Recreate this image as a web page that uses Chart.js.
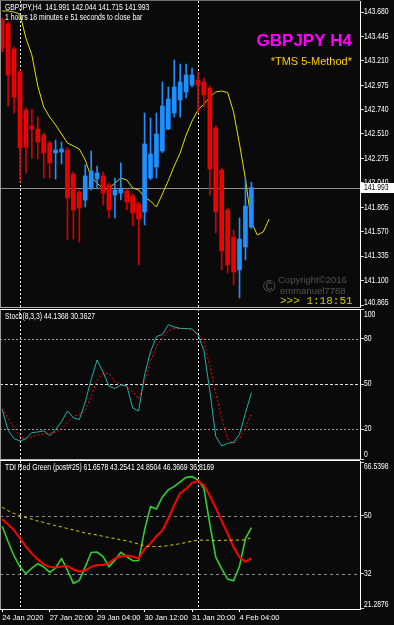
<!DOCTYPE html>
<html>
<head>
<meta charset="utf-8">
<script src="https://cdn.jsdelivr.net/npm/chart.js@4.4.1/dist/chart.umd.min.js"></script>
<style>
html, body { margin: 0; padding: 0; background: #0a0a0a; }
#wrap { position: relative; width: 394px; height: 625px; overflow: hidden; background: #0a0a0a; }
canvas { position: absolute; left: 0; }
</style>
</head>
<body>
<div id="wrap">
  <canvas id="mainChart" width="394" height="308" style="top:0px"></canvas>
  <canvas id="stochChart" width="394" height="151" style="top:309px"></canvas>
  <canvas id="tdiChart" width="394" height="165" style="top:460px"></canvas>
</div>
<script>
// GBPJPY H4 candles, one entry per bar
const openP  = [143.603, 143.565, 143.325, 143.104, 142.739, 142.585, 142.556, 142.498, 142.422, 142.326,
                142.335, 142.354, 142.124, 141.951, 141.874, 141.989, 142.076, 142.105, 142.018, 141.922,
                141.941, 141.961, 141.912, 141.836, 141.759, 142.085, 142.191, 142.345, 142.556, 142.710,
                142.835, 142.912, 142.979, 143.027, 143.008, 142.950, 142.566, 142.162, 141.778, 141.519,
                141.202, 141.423, 141.615];
const highP  = [143.622, 143.584, 143.344, 143.123, 142.758, 142.748, 142.671, 142.518, 142.441, 142.450,
                142.431, 142.374, 142.143, 141.970, 142.210, 142.345, 142.201, 142.143, 142.037, 142.085,
                142.230, 141.980, 141.932, 141.855, 142.710, 142.662, 142.710, 143.008, 142.960, 143.219,
                143.180, 143.180, 143.142, 143.104, 143.046, 142.969, 142.585, 142.181, 141.797, 141.586,
                141.701, 142.085, 142.044];
const lowP   = [143.296, 142.777, 142.710, 142.047, 142.133, 142.277, 142.268, 142.085, 142.085, 142.076,
                142.220, 141.490, 141.499, 141.471, 141.807, 141.970, 141.980, 141.826, 141.701, 141.701,
                141.874, 141.778, 141.624, 141.250, 141.634, 142.070, 142.085, 142.330, 142.550, 142.671,
                142.671, 142.854, 142.960, 142.710, 142.767, 141.922, 141.557, 141.202, 141.173, 141.058,
                140.933, 141.298, 141.600];
const closeP = [143.334, 143.075, 142.863, 142.374, 142.380, 142.556, 142.431, 142.326, 142.230, 142.354,
                142.364, 141.893, 141.778, 141.797, 142.105, 142.153, 142.133, 141.941, 141.778, 141.970,
                141.980, 141.855, 141.749, 141.692, 142.412, 142.316, 142.508, 142.777, 142.844, 142.960,
                143.008, 143.075, 143.075, 142.979, 142.883, 142.172, 141.759, 141.384, 141.250, 141.182,
                141.499, 141.816, 141.993];
// shifted moving average (runs 3 bars past the last candle)
const maLine = [143.690, 143.690, 143.680, 143.660, 143.430, 143.267, 142.969, 142.767, 142.671, 142.595,
                142.508, 142.422, 142.393, 142.364, 142.258, 142.095, 142.037, 141.980, 141.985, 142.037,
                142.085, 142.066, 141.989, 141.970, 141.903, 141.864, 141.807, 141.932, 142.060, 142.201,
                142.326, 142.498, 142.633, 142.739, 142.796, 142.863, 142.912, 142.921, 142.907, 142.719,
                142.412, 142.076, 141.663, 141.538, 141.567, 141.691];

// Stochastic (8,3,3)
const stochMain = [33, 19, 13.6, 12, 13.5, 17.6, 18, 18.8, 15.5, 19.5,
                   25, 32, 27.5, 26.3, 38, 53, 66, 58, 48.5, 47,
                   49.3, 48.8, 34, 32, 56, 71.5, 81.6, 83, 89.5, 88,
                   87.1, 87, 86.7, 82.8, 72.3, 45.3, 15, 8.7, 10.5, 11,
                   16.5, 30.5, 44.14];
const stochSignal = [33.8, 27, 21, 14.8, 13.5, 14.5, 16.2, 16.5, 17.2, 17.6,
                     20.3, 24.5, 28.5, 29.5, 32.3, 42, 52.5, 57, 57, 51.5,
                     50, 48, 45, 40, 52, 65, 75, 81, 85.5, 87,
                     87, 86.8, 86, 83.8, 78.4, 61.9, 44, 27, 13.3, 10.4,
                     13.5, 21, 30.36];

// TDI Red Green
const tdiGreen = [46.8, 42, 37.6, 34.2, 32.1, 33.8, 35.2, 34.2, 32.5, 33.9,
                  36.8, 33.2, 29.1, 30, 34.2, 38.7, 38.8, 37.4, 34.3, 36.3,
                  38.7, 37.4, 36.1, 36.2, 45.6, 52.9, 52.2, 55.9, 58.1, 59.2,
                  60.6, 62, 62.2, 61.2, 58.6, 47.4, 37.2, 33.6, 30.4, 29.9,
                  34.4, 43, 46.37];
const tdiRed = [49, 47.4, 45.6, 43, 40.5, 38.3, 36.5, 35, 34.2, 34,
                34.3, 34.5, 33.4, 32.8, 33.1, 34.2, 34.8, 34.8, 35.4, 36.8,
                37.4, 37.7, 37.4, 36.8, 39.8, 41.5, 43.7, 45.5, 49.2, 53.4,
                57.1, 58.4, 60.3, 60.9, 59.6, 56.2, 52.5, 48.5, 44.5, 40.3,
                37.2, 35.8, 36.82];
const tdiBase = [52.7, 51.6, 50.8, 50.1, 49.5, 49, 48.4, 48, 47.5, 47,
                 46.6, 46.1, 45.7, 45.2, 44.7, 44.4, 44.1, 43.7, 43.3, 43,
                 42.6, 42.3, 41.8, 41.3, 40.7, 40.5, 40.5, 40.6, 40.8, 41.1,
                 41.4, 41.8, 42.2, 42.5, 42.5, 42.5, 42.4, 42.4, 42.5, 42.5,
                 42.5, 42.6, 43.25];

// axes
const xTickBars = [0, 8, 16, 24, 32, 40];
const xTickLabels = ['24 Jan 2020', '27 Jan 20:00', '29 Jan 04:00', '30 Jan 12:00', '31 Jan 20:00', '4 Feb 04:00'];
const separatorBars = [3, 33];
const priceTicks = [143.680, 143.445, 143.210, 142.975, 142.740, 142.510, 142.275, 142.040, 141.805, 141.570, 141.335, 141.100, 140.865];
const stochTicks = [100, 80, 50, 20, 0];
const stochLevels = [80, 50, 20];
const tdiTicks = [66.5398, 50, 32, 21.2876];
const tdiLevels = [50, 32];

const xMin = -0.37, xMax = 60.31;
const FONT = "'Liberation Sans', Arial, sans-serif";
const SMALL = '8.5px ' + FONT;

const pts = arr => arr.map((v, i) => ({x: i, y: v}));

// terminal text is narrow; squeeze it horizontally
function drawText(ctx, text, x, y, font, color, align, sx) {
    ctx.save();
    ctx.translate(x, y);
    ctx.scale(sx || 1, 1);
    ctx.font = font;
    ctx.fillStyle = color;
    ctx.textAlign = align || 'left';
    ctx.textBaseline = 'middle';
    ctx.fillText(text, 0, 0);
    ctx.restore();
}

const paneDeco = {
    id: 'paneDeco',
    beforeDatasetsDraw(chart, args, opts) {
        const {ctx, chartArea: a, scales} = chart;
        ctx.save();
        ctx.lineWidth = 1;
        (opts.levels || []).forEach(lv => {
            const y = Math.round(scales.y.getPixelForValue(lv.value)) + 0.5;
            ctx.strokeStyle = lv.color;
            ctx.setLineDash(lv.dash);
            ctx.beginPath(); ctx.moveTo(a.left, y); ctx.lineTo(a.right, y); ctx.stroke();
        });
        if (opts.priceLine !== undefined) {
            const y = Math.round(scales.y.getPixelForValue(opts.priceLine)) + 0.5;
            ctx.strokeStyle = '#8c8c8c';
            ctx.setLineDash([]);
            ctx.beginPath(); ctx.moveTo(a.left, y); ctx.lineTo(a.right, y); ctx.stroke();
        }
        ctx.strokeStyle = '#e8e8e8';
        ctx.setLineDash([2, 2]);
        separatorBars.forEach(b => {
            const x = Math.round(scales.x.getPixelForValue(b)) + 0.5;
            ctx.beginPath(); ctx.moveTo(x, a.top); ctx.lineTo(x, a.bottom); ctx.stroke();
        });
        ctx.restore();
    },
    afterDraw(chart, args, opts) {
        const {ctx, chartArea: a, scales} = chart;
        ctx.save();
        ctx.lineWidth = 1;
        ctx.setLineDash([]);
        // pane frame
        ctx.strokeStyle = '#9a9a9a';
        ctx.beginPath(); ctx.moveTo(0.5, a.top); ctx.lineTo(0.5, a.bottom); ctx.stroke();
        ctx.strokeStyle = opts.topColor || '#9a9a9a';
        const ty = Math.max(a.top - 0.5, 0.5);
        ctx.beginPath(); ctx.moveTo(0, ty); ctx.lineTo(a.right, ty); ctx.stroke();
        if (opts.bottomLine) {
            ctx.strokeStyle = opts.bottomLine;
            ctx.beginPath(); ctx.moveTo(0, a.bottom + 0.5); ctx.lineTo(a.right, a.bottom + 0.5); ctx.stroke();
        }
        ctx.restore();
        // right scale labels, kept inside the pane like the terminal does
        scales.y.ticks.forEach(t => {
            let y = scales.y.getPixelForValue(t.value);
            y = Math.min(Math.max(y, a.top + 6), a.bottom - 4);
            drawText(ctx, opts.fmt(t.value), a.right + 4, y, SMALL, '#ffffff', 'left', 0.8);
        });
        // last price box
        if (opts.priceLine !== undefined) {
            const y = Math.round(scales.y.getPixelForValue(opts.priceLine));
            ctx.fillStyle = '#ffffff';
            ctx.fillRect(a.right + 1, y - 5, 33, 10);
            drawText(ctx, opts.priceLine.toFixed(3), a.right + 4, y, SMALL, '#000000', 'left', 0.8);
        }
        // captions
        (opts.texts || []).forEach(t => {
            drawText(ctx, t.text, t.x, t.y, t.font, t.color, t.align, t.sx);
        });
    }
};

function baseOptions(yMin, yMax, yTicks, showX, deco) {
    const xScale = {
        type: 'linear',
        min: xMin,
        max: xMax,
        offset: false,
        display: showX,
        afterBuildTicks: s => { s.ticks = xTickBars.map(v => ({value: v})); },
        grid: {drawOnChartArea: false, color: '#ffffff', tickLength: 3},
        border: {color: '#ffffff'},
        ticks: {
            color: '#ffffff',
            font: {family: FONT, size: 7.5},
            align: 'start',
            maxRotation: 0,
            autoSkip: false,
            padding: 1,
            callback: (v, i) => xTickLabels[i]
        }
    };
    if (showX) {
        xScale.afterFit = s => { s.height = 16; };
    }
    return {
        responsive: false,
        animation: false,
        devicePixelRatio: 1,
        layout: {padding: {top: 1, bottom: showX ? 0 : 1, left: 0, right: 0}},
        plugins: {legend: {display: false}, tooltip: {enabled: false}, paneDeco: deco},
        scales: {
            x: xScale,
            y: {
                position: 'right',
                min: yMin,
                max: yMax,
                afterBuildTicks: s => { s.ticks = yTicks.map(v => ({value: v})); },
                afterFit: s => { s.width = 34; },
                grid: {drawOnChartArea: false, color: '#d0d0d0', tickLength: 4},
                border: {color: '#ffffff'},
                ticks: {display: false}
            }
        }
    };
}

function createCandleChart(ctx) {
    const up = closeP.map((c, i) => c >= openP[i]);
    const deco = {
        priceLine: closeP[closeP.length - 1],
        topColor: '#6e6e6e',
        bottomLine: '#b4b4b4',
        fmt: v => v.toFixed(3),
        texts: [
            {text: 'GBPJPY,H4  141.991 142.044 141.715 141.993', x: 5, y: 8, color: '#ffffff', font: SMALL, sx: 0.8},
            {text: '1 hours 18 minutes e 51 seconds to close bar', x: 5, y: 18, color: '#ffffff', font: SMALL, sx: 0.8},
            {text: 'GBPJPY H4', x: 352, y: 41, color: '#ff00ff', font: 'bold 17px ' + FONT, align: 'right'},
            {text: '*TMS 5-Method*', x: 352, y: 62, color: '#ffcc00', font: '11px ' + FONT, align: 'right'},
            {text: '\u00a9', x: 263, y: 287, color: '#525252', font: '17px ' + FONT},
            {text: 'Copyright\u00a92016', x: 278, y: 280, color: '#525252', font: '9.5px ' + FONT},
            {text: 'emmanuel7788', x: 280, y: 291, color: '#525252', font: '9.5px ' + FONT},
            {text: '>>> 1:18:51', x: 280, y: 301, color: '#cccc00', font: '11px "Liberation Mono", monospace'}
        ]
    };
    return new Chart(ctx, {
        type: 'bar',
        data: {
            datasets: [
                {
                    label: 'wicks',
                    data: lowP.map((l, i) => ({x: i, y: [l, highP[i]]})),
                    backgroundColor: up.map(u => u ? '#1e90ff' : '#d40000'),
                    barThickness: 1,
                    grouped: false,
                    borderWidth: 0
                },
                {
                    label: 'bodies',
                    data: openP.map((o, i) => ({x: i, y: [o, closeP[i]]})),
                    backgroundColor: up.map(u => u ? '#1e90ff' : '#ff0000'),
                    barThickness: 4,
                    grouped: false,
                    minBarLength: 1,
                    borderWidth: 0
                },
                {
                    type: 'line',
                    label: 'MA',
                    data: pts(maLine),
                    borderColor: '#e0e000',
                    borderWidth: 1,
                    pointRadius: 0,
                    tension: 0
                }
            ]
        },
        options: baseOptions(140.846, 143.786, priceTicks, false, deco)
    });
}

function createStochChart(ctx) {
    const deco = {
        topColor: '#ffffff',
        bottomLine: '#b4b4b4',
        fmt: v => String(v),
        levels: stochLevels.map(v => ({value: v, color: v === 50 ? '#e0e0e0' : '#9a9a9a', dash: v === 50 ? [3, 2] : [2, 2]})),
        texts: [
            {text: 'Stoch(8,3,3) 44.1368 30.3627', x: 5, y: 8, color: '#ffffff', font: SMALL, sx: 0.8}
        ]
    };
    const opts = baseOptions(0, 100, stochTicks, false, deco);
    opts.layout.padding.top = 0;
    return new Chart(ctx, {
        type: 'line',
        data: {
            datasets: [
                {label: 'main', data: pts(stochMain), borderColor: '#20b2aa', borderWidth: 1, pointRadius: 0, tension: 0},
                {label: 'signal', data: pts(stochSignal), borderColor: '#ff0000', borderWidth: 1, borderDash: [2, 2], pointRadius: 0, tension: 0}
            ]
        },
        options: opts
    });
}

function createTdiChart(ctx) {
    const deco = {
        topColor: '#ffffff',
        fmt: v => Number.isInteger(v) ? String(v) : v.toFixed(4),
        levels: tdiLevels.map(v => ({value: v, color: '#8a8a8a', dash: [3, 3]})),
        texts: [
            {text: 'TDI Red Green (post#25) 61.6578 43.2541 24.8504 46.3669 36.8169', x: 5, y: 8, color: '#ffffff', font: SMALL, sx: 0.8}
        ]
    };
    return new Chart(ctx, {
        type: 'line',
        data: {
            datasets: [
                {label: 'base', data: pts(tdiBase), borderColor: '#d8d800', borderWidth: 1, borderDash: [3, 3], pointRadius: 0, tension: 0},
                {label: 'red', data: pts(tdiRed), borderColor: '#ff0000', borderWidth: 2, pointRadius: 0, tension: 0},
                {label: 'green', data: pts(tdiGreen), borderColor: '#32cd32', borderWidth: 1.6, pointRadius: 0, tension: 0}
            ]
        },
        options: baseOptions(21.13, 67.07, tdiTicks, true, deco)
    });
}

try {
    if (typeof Chart === 'undefined') {
        throw new Error('Chart.js is not loaded');
    }
    Chart.register(paneDeco);
    createCandleChart(document.getElementById('mainChart'));
    createStochChart(document.getElementById('stochChart'));
    createTdiChart(document.getElementById('tdiChart'));
} catch (error) {
    console.error('Chart creation error:', error);
}
</script>
</body>
</html>
